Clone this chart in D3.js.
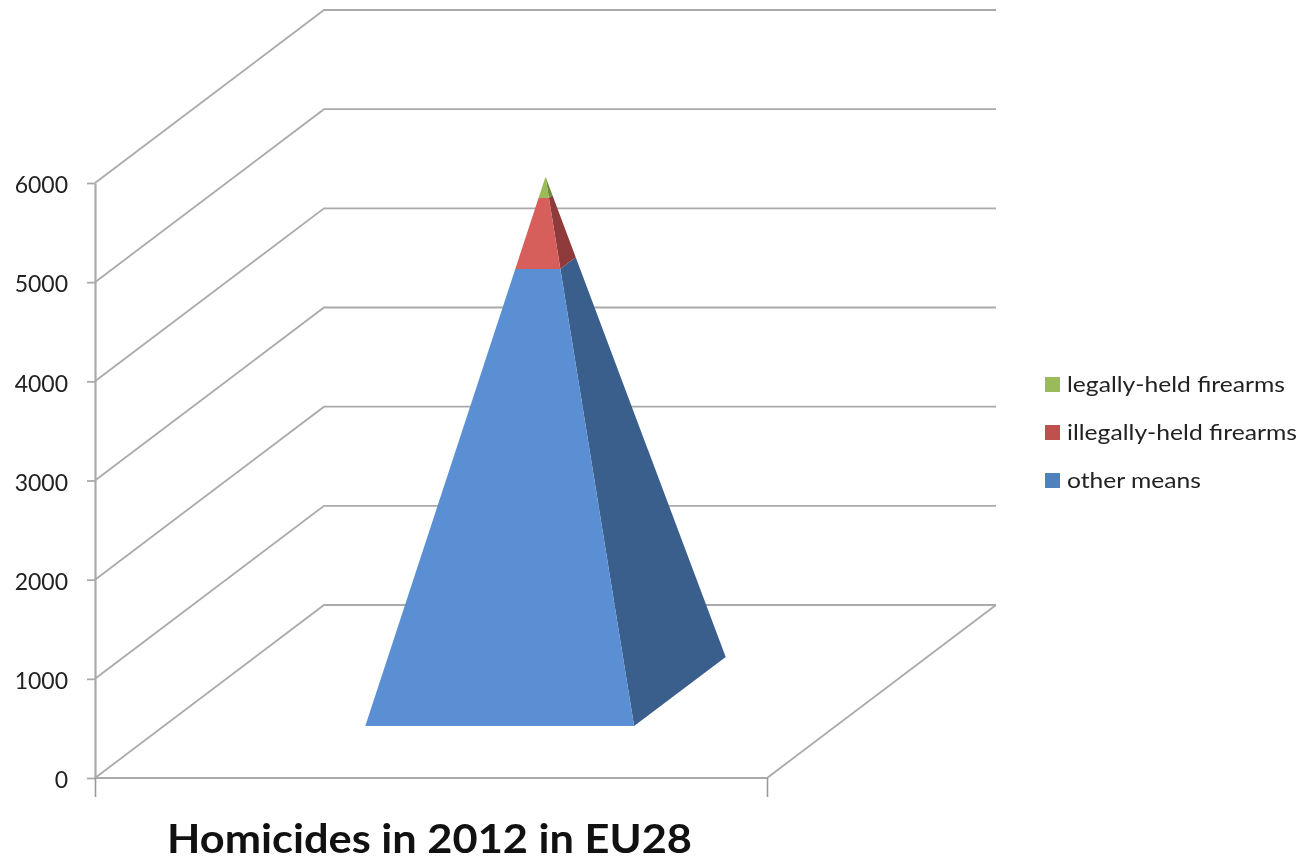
<!DOCTYPE html>
<html>
<head>
<meta charset="utf-8">
<script src="https://cdn.jsdelivr.net/npm/d3@7"></script>
<style>
  html, body { margin: 0; padding: 0; background: #fff; }
  svg { display: block; filter: blur(0.6px); }
  text { font-family: Lato, "Open Sans", sans-serif; }
</style>
</head>
<body>
<div id="chart"></div>
<script>
var seriesNames = ["other means", "illegally-held firearms", "legally-held firearms"];
var seriesValues = [4320, 670, 200];
var frontColors = ["#5b8fd3", "#d75f5b", "#9bbb59"];
var sideColors = ["#3a5f8c", "#8f3b3b", "#6b8a3a"];
var legendColors = ["#4f81bd", "#c0504d", "#9bbb59"];
var legendOrder = ["legally-held firearms", "illegally-held firearms", "other means"];
var yTicks = [0, 1000, 2000, 3000, 4000, 5000, 6000];
var chartTitle = "Homicides in 2012 in EU28";

var width = 1303, height = 862;

var svg = d3.select("#chart")
  .append("svg")
    .attr("width", width)
    .attr("height", height);

// oblique projection of the box: x runs along the floor, depth goes back and up
var xscale = d3.scaleLinear().domain([0, 1]).range([95, 767]);
var yscale = d3.scaleLinear().domain([0, 6000]).range([778, 183]);
var depthX = d3.scaleLinear().domain([0, 1]).range([0, 229]);
var depthY = d3.scaleLinear().domain([0, 1]).range([0, -173]);

function project(x, d, v) {
  return [xscale(x) + depthX(d), yscale(v) + depthY(d)];
}

var gridColor = "#aaaaaa";
var line = d3.line();

function drawLine(points, w) {
  svg.append("path")
    .attr("d", line(points))
    .attr("fill", "none")
    .attr("stroke", gridColor)
    .attr("stroke-width", w || 1.8);
}

// side wall and back wall grid
yTicks.forEach(function(t) {
  drawLine([project(0, 0, t), project(0, 1, t), project(1, 1, t)]);
});
// floor edges
drawLine([project(0, 0, 0), project(1, 0, 0), project(1, 1, 0)]);

// value axis
var yAxis = svg.append("g")
  .attr("transform", "translate(" + xscale(0) + ",0)")
  .call(d3.axisLeft(yscale).tickValues(yTicks).tickSize(8).tickSizeOuter(0).tickPadding(19).tickFormat(d3.format("d")));
yAxis.select(".domain").attr("stroke", gridColor).attr("stroke-width", 2.2);
yAxis.selectAll(".tick line").attr("stroke", gridColor).attr("stroke-width", 1.8);
yAxis.selectAll("text")
  .attr("fill", "#222")
  .attr("dy", "0.42em")
  .style("font-size", "23px")
  .style("font-family", "Lato, sans-serif");

// category axis ticks
var xAxis = svg.append("g")
  .attr("transform", "translate(0," + yscale(0) + ")")
  .call(d3.axisBottom(xscale).tickValues([0, 1]).tickSize(19).tickSizeOuter(0).tickFormat(""));
xAxis.select(".domain").remove();
xAxis.selectAll(".tick line").attr("stroke", "#999").attr("stroke-width", 1.6);

// pyramid
var baseLo = 0.3, mid = 0.5;
var total = d3.sum(seriesValues);
var halfBase = d3.scaleLinear().domain([0, total]).range([mid - baseLo, 0]);

function corners(v) {
  var h = halfBase(v);
  return {
    fl: project(mid - h, mid - h, v),
    fr: project(mid + h, mid - h, v),
    br: project(mid + h, mid + h, v)
  };
}

var cum = d3.cumsum(seriesValues);
seriesValues.forEach(function(val, i) {
  var lo = corners(i === 0 ? 0 : cum[i - 1]);
  var hi = corners(cum[i]);
  svg.append("path")
    .attr("d", line([lo.fr, lo.br, hi.br, hi.fr]) + "Z")
    .attr("fill", sideColors[i]);
  svg.append("path")
    .attr("d", line([lo.fl, lo.fr, hi.fr, hi.fl]) + "Z")
    .attr("fill", frontColors[i]);
});

// legend
var legendY = d3.scalePoint().domain(legendOrder).range([385, 481]);
var legend = svg.append("g");
legendOrder.forEach(function(name) {
  var idx = seriesNames.indexOf(name);
  legend.append("rect")
    .attr("x", 1045)
    .attr("y", legendY(name) - 8)
    .attr("width", 15)
    .attr("height", 15)
    .attr("fill", legendColors[idx]);
  legend.append("text")
    .attr("x", 1067)
    .attr("y", legendY(name) + 7)
    .attr("fill", "#222")
    .attr("textLength", name === "other means" ? 134 : (name === "legally-held firearms" ? 218 : 230))
    .attr("lengthAdjust", "spacingAndGlyphs")
    .style("font-size", "22px")
    .text(name);
});

// title
svg.append("text")
  .attr("x", 167)
  .attr("y", 853)
  .attr("fill", "#111")
  .attr("textLength", 525)
  .attr("lengthAdjust", "spacingAndGlyphs")
  .style("font-size", "41px")
  .style("font-weight", "700")
  .text(chartTitle);
</script>
</body>
</html>
